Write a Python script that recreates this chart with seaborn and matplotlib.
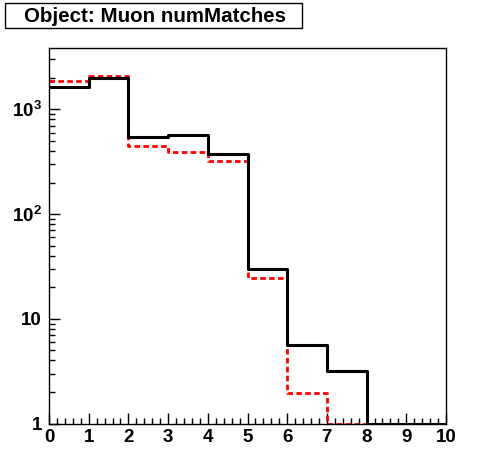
import numpy as np
import pandas as pd
import seaborn as sns
from matplotlib import pyplot as plt
from matplotlib import ticker
from matplotlib.patches import Rectangle

# Histogram contents (bins 0..10, width 1)
bin_edges = [0, 1, 2, 3, 4, 5, 6, 7, 8, 9, 10]
black_counts = [1648, 1982, 546, 569, 375, 29.9, 5.6, 3.17, 0, 0]
red_counts = [1879, 2098, 444, 394, 319, 24.7, 1.96, 0, 0, 0]
title = 'Object: Muon numMatches'
y_low, y_high = 1, 3850

sns.set_style('white')
plt.rcParams['font.family'] = ['Liberation Sans', 'DejaVu Sans']
plt.rcParams['font.weight'] = 'bold'
plt.rcParams['text.color'] = 'black'
plt.rcParams['mathtext.fontset'] = 'custom'
plt.rcParams['mathtext.rm'] = 'Liberation Sans:bold'
plt.rcParams['mathtext.bf'] = 'Liberation Sans:bold'

centers = np.array(bin_edges[:-1]) + 0.5
# empty bins sit on the bottom of the log axis, as ROOT draws them
df = pd.DataFrame({'x': centers,
                   'black': np.clip(black_counts, y_low, None),
                   'red': np.clip(red_counts, y_low, None)})

fig = plt.figure(figsize=(4.96, 4.72), dpi=100)
ax = fig.add_axes([49 / 496, 1 - 423.5 / 472, 397 / 496, 375.5 / 472])

sns.histplot(data=df, x='x', weights='red', bins=bin_edges, element='step',
             fill=False, color='red', linewidth=2, linestyle=(0, (2, 1.2)), ax=ax)
sns.histplot(data=df, x='x', weights='black', bins=bin_edges, element='step',
             fill=False, color='black', linewidth=2.2, ax=ax)

ax.set_yscale('log')
ax.set_xlim(0, 10)
ax.set_ylim(y_low, y_high)
ax.set_xlabel('')
ax.set_ylabel('')

ax.xaxis.set_major_locator(ticker.MultipleLocator(1))
ax.xaxis.set_minor_locator(ticker.MultipleLocator(0.2))
ax.yaxis.set_major_locator(ticker.LogLocator(base=10))
ax.yaxis.set_minor_locator(ticker.LogLocator(base=10, subs=np.arange(2, 10)))
ax.yaxis.set_minor_formatter(ticker.NullFormatter())


def log_label(v, pos):
    if v < 1.5:
        return '1'
    if v < 15:
        return '10'
    return r'$\mathbf{10^{%d}}$' % round(np.log10(v))


ax.yaxis.set_major_formatter(ticker.FuncFormatter(log_label))
ax.tick_params(axis='both', which='both', direction='in', left=True, bottom=True,
               top=False, right=False, colors='black', labelsize=13.5, width=1)
ax.tick_params(axis='x', which='major', length=8, pad=4)
ax.tick_params(axis='y', which='major', length=8, pad=5)
ax.tick_params(axis='both', which='minor', length=4)
for lab in ax.get_xticklabels() + ax.get_yticklabels():
    lab.set_fontweight('bold')
for sp in ax.spines.values():
    sp.set_color('black')
    sp.set_linewidth(1)

# title box in the upper left, like a ROOT pave
fig.patches.append(Rectangle((5 / 496, 1 - 28 / 472), 297 / 496, 25 / 472,
                             transform=fig.transFigure, fc='white', ec='black', lw=1))
fig.text(155 / 496, 1 - 16 / 472, title, ha='center', va='center',
         fontsize=14.8, fontweight='bold', color='black')

fig.savefig('out.png', dpi=100)
